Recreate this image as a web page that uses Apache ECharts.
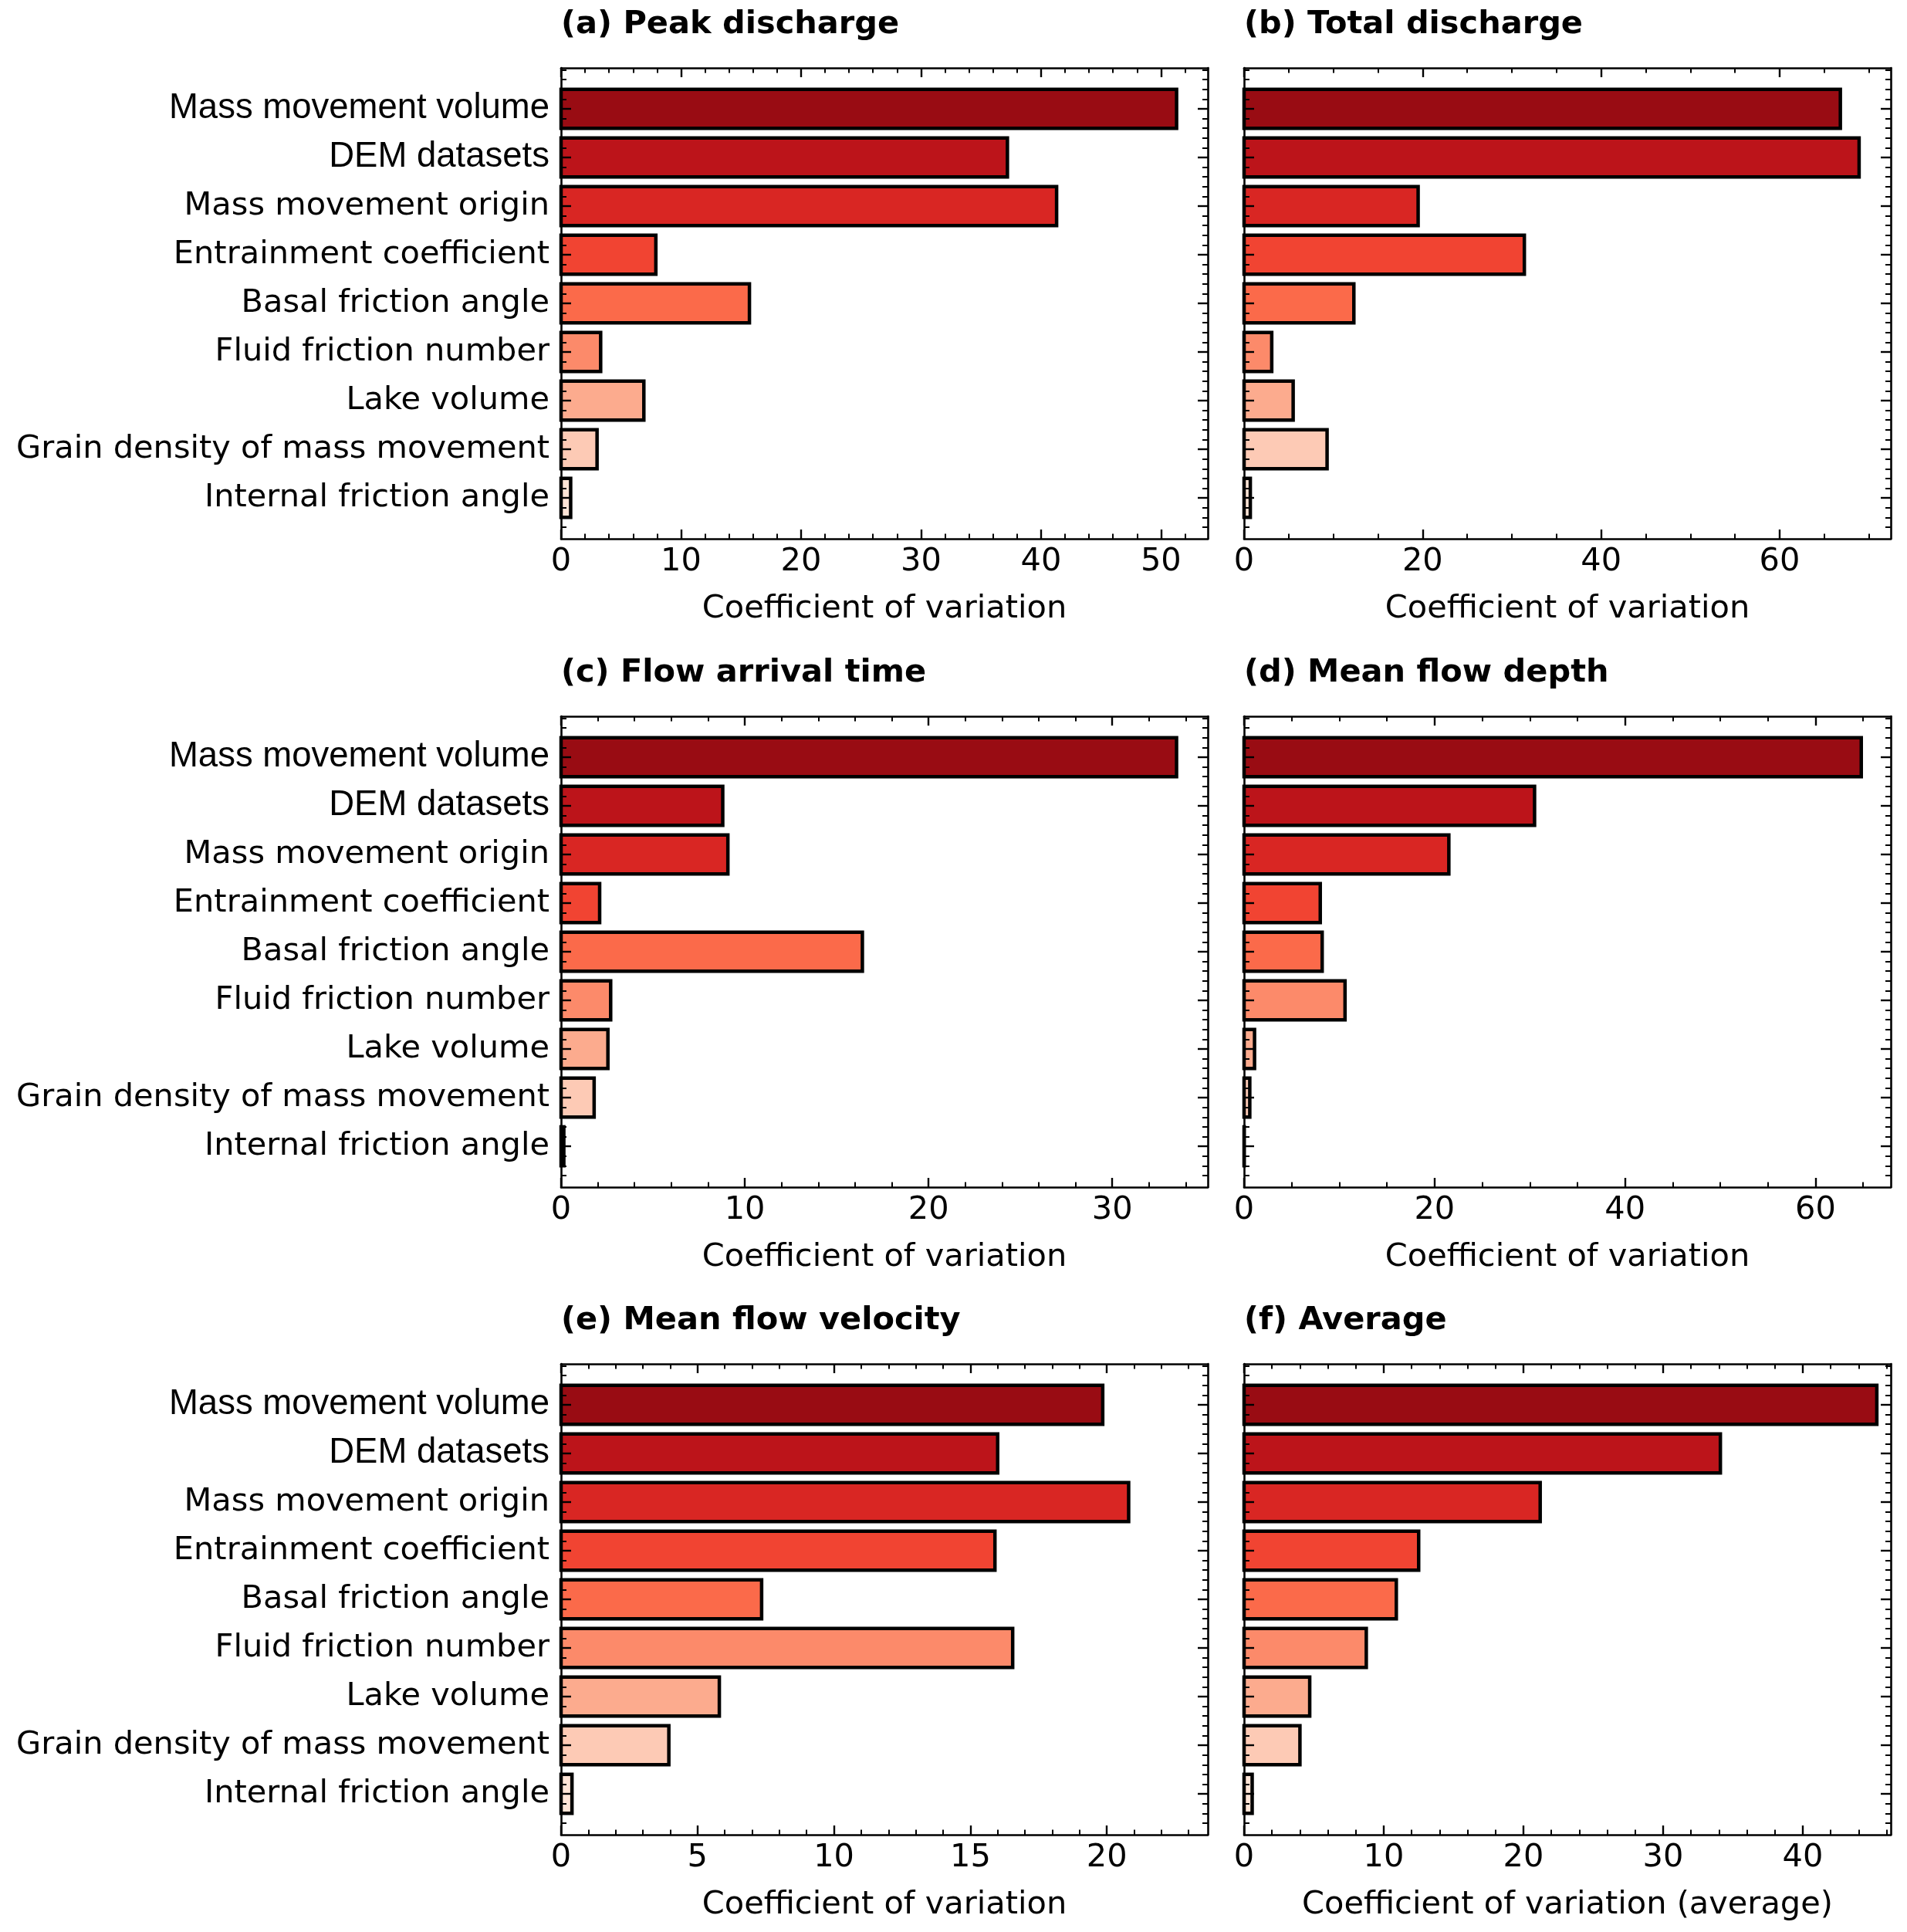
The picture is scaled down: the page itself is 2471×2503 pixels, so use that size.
<!DOCTYPE html>
<html>
<head>
<meta charset="utf-8">
<script src="https://cdn.jsdelivr.net/npm/echarts@6/dist/echarts.min.js"></script>
<style>
html,body{margin:0;padding:0;background:#fff;}
#chart{width:2471px;height:2503px;}
</style>
</head>
<body>
<div id="chart"></div>
<script>
// ---------------- data ----------------
const categories = [
  "Mass movement volume",
  "DEM datasets",
  "Mass movement origin",
  "Entrainment coefficient",
  "Basal friction angle",
  "Fluid friction number",
  "Lake volume",
  "Grain density of mass movement",
  "Internal friction angle"
];
const peakDischarge    = [51.3, 37.2, 41.3, 7.9, 15.7, 3.3, 6.9, 3.0, 0.8];
const totalDischarge   = [66.8, 68.9, 19.5, 31.4, 12.3, 3.1, 5.5, 9.3, 0.7];
const flowArrivalTime  = [33.5, 8.8, 9.08, 2.1, 16.4, 2.7, 2.55, 1.8, 0.15];
const meanFlowDepth    = [64.8, 30.5, 21.5, 8.0, 8.2, 10.6, 1.1, 0.6, 0.02];
const meanFlowVelocity = [19.85, 16.0, 20.8, 15.9, 7.35, 16.55, 5.8, 3.95, 0.4];
const averageCV        = [45.3, 34.1, 21.2, 12.5, 10.9, 8.75, 4.7, 4.0, 0.58];

const panelTitles = [
  "(a) Peak discharge", "(b) Total discharge",
  "(c) Flow arrival time", "(d) Mean flow depth",
  "(e) Mean flow velocity", "(f) Average"
];
const xAxisNames = [
  "Coefficient of variation", "Coefficient of variation",
  "Coefficient of variation", "Coefficient of variation",
  "Coefficient of variation", "Coefficient of variation (average)"
];
const xMaxima = [53.9, 72.45, 35.2, 67.9, 23.7, 46.3];
const xMajorTicks = [
  [0, 10, 20, 30, 40, 50],
  [0, 20, 40, 60],
  [0, 10, 20, 30],
  [0, 20, 40, 60],
  [0, 5, 10, 15, 20],
  [0, 10, 20, 30, 40]
];
const xMinorSteps = [2, 5, 2, 5, 1, 2];
const categoryTicks = [0, 1, 2, 3, 4, 5, 6, 7, 8];

const panelValues = [peakDischarge, totalDischarge, flowArrivalTime, meanFlowDepth, meanFlowVelocity, averageCV];

// ---------------- styling / layout ----------------
const palette = ['#990c13','#bc141a','#d92623','#f14432','#fb6a4a','#fc8a6a','#fcab8e','#fdcab5','#fee4d6'];
const labelStyleKeys = ['ar','ar','dv','dv','dv','dv','dv','dv','dv'];
const colLeft = [727, 1612];
const frameW = 838;
const rowTop = [88, 928, 1767];
const frameH = 610;
const yMin = -0.84, yMax = 8.84;
const SANS = 'DejaVu Sans';

function minorValues(lo, hi, step, majorTest) {
  const out = [];
  const n = Math.floor((hi - lo) / step + 1e-9);
  for (let i = 0; i <= n; i++) {
    const v = Math.round((lo + i * step) * 1000) / 1000;
    if (v <= lo + 1e-9 && lo === 0) continue;
    if (v >= hi - 1e-9) continue;
    if (majorTest(v)) continue;
    out.push(v);
  }
  return out;
}

const grids = [], xAxes = [], yAxes = [], series = [], graphics = [];
const spine = {show: true, onZero: false, lineStyle: {color: '#000', width: 2.6}};
const noSpine = {show: false, onZero: false};

for (let p = 0; p < 6; p++) {
  const r = Math.floor(p / 2), c = p % 2;
  const left = colLeft[c], top = rowTop[r];
  grids.push({left: left, top: top, width: frameW, height: frameH, containLabel: false, outerBoundsMode: 'none'});

  const majors = xMajorTicks[p];
  const majStep = majors[1] - majors[0];
  const xMinor = minorValues(0, xMaxima[p], xMinorSteps[p], v => Math.abs(v / majStep - Math.round(v / majStep)) < 1e-6);
  const yMinor = minorValues(-0.8, 8.8, 0.2, v => Math.abs(v - Math.round(v)) < 1e-6).filter(v => v > yMin && v < yMax);
  yMinor.unshift(-0.8);

  const baseX = {gridIndex: p, type: 'value', min: 0, max: xMaxima[p], splitLine: {show: false}, z: 5};
  xAxes.push(Object.assign({}, baseX, {
    position: 'bottom',
    axisLine: spine,
    axisTick: {show: true, inside: true, length: 12, lineStyle: {color: '#000', width: 2.4}, customValues: majors},
    axisLabel: {show: true, customValues: majors, margin: 9, fontFamily: SANS, fontSize: 41.5, color: '#000'},
    name: xAxisNames[p], nameLocation: 'middle', nameGap: 70,
    nameTextStyle: {fontFamily: SANS, fontSize: 41.5, color: '#000'}
  }));
  xAxes.push(Object.assign({}, baseX, {
    position: 'top',
    axisLine: spine,
    axisTick: {show: true, inside: true, length: 12, lineStyle: {color: '#000', width: 2.4}, customValues: majors},
    axisLabel: {show: false}
  }));
  xAxes.push(Object.assign({}, baseX, {
    position: 'bottom',
    axisLine: noSpine,
    axisTick: {show: true, inside: true, length: 6.5, lineStyle: {color: '#000', width: 2}, customValues: xMinor},
    axisLabel: {show: false}
  }));
  xAxes.push(Object.assign({}, baseX, {
    position: 'top',
    axisLine: noSpine,
    axisTick: {show: true, inside: true, length: 6.5, lineStyle: {color: '#000', width: 2}, customValues: xMinor},
    axisLabel: {show: false}
  }));

  const baseY = {gridIndex: p, type: 'value', min: yMin, max: yMax, inverse: true, splitLine: {show: false}, z: 5};
  yAxes.push(Object.assign({}, baseY, {
    position: 'left',
    axisLine: spine,
    axisTick: {show: true, inside: true, length: 13, lineStyle: {color: '#000', width: 2.4}, customValues: categoryTicks},
    axisLabel: {show: c === 0, customValues: categoryTicks, margin: 15, color: '#000',
      fontFamily: SANS, fontSize: 41.5,
      formatter: v => { const k = Math.round(v); return '{' + labelStyleKeys[k] + '|' + categories[k] + '}'; },
      rich: {
        ar: {fontFamily: 'Liberation Sans', fontSize: 45.5, color: '#000'},
        dv: {fontFamily: SANS, fontSize: 41.5, color: '#000'}
      }}
  }));
  yAxes.push(Object.assign({}, baseY, {
    position: 'right',
    axisLine: spine,
    axisTick: {show: true, inside: true, length: 13, lineStyle: {color: '#000', width: 2.4}, customValues: categoryTicks},
    axisLabel: {show: false}
  }));
  yAxes.push(Object.assign({}, baseY, {
    position: 'left',
    axisLine: noSpine,
    axisTick: {show: true, inside: true, length: 7, lineStyle: {color: '#000', width: 2}, customValues: yMinor},
    axisLabel: {show: false}
  }));
  yAxes.push(Object.assign({}, baseY, {
    position: 'right',
    axisLine: noSpine,
    axisTick: {show: true, inside: true, length: 7, lineStyle: {color: '#000', width: 2}, customValues: yMinor},
    axisLabel: {show: false}
  }));

  series.push({
    type: 'custom',
    xAxisIndex: 4 * p,
    yAxisIndex: 4 * p,
    z: 2,
    encode: {x: 0, y: 1},
    data: panelValues[p].map((v, k) => [v, k]),
    renderItem: function (params, api) {
      const v = api.value(0), k = api.value(1);
      const s = api.coord([0, k]);
      const e = api.coord([v, k]);
      const h = Math.abs(api.size([0, 0.8])[1]);
      return {
        type: 'rect',
        shape: {x: s[0], y: s[1] - h / 2, width: e[0] - s[0], height: h},
        style: {fill: palette[k], stroke: '#000', lineWidth: 4.5}
      };
    }
  });

  graphics.push({
    type: 'text', x: left, y: top - 56, z: 10,
    style: {text: panelTitles[p], fontFamily: SANS, fontWeight: 'bold', fontSize: 41.5,
      fill: '#000', align: 'left', verticalAlign: 'middle'}
  });
}

const chart = echarts.init(document.getElementById('chart'), null, {renderer: 'canvas'});
chart.setOption({
  backgroundColor: '#fff',
  animation: false,
  grid: grids,
  xAxis: xAxes,
  yAxis: yAxes,
  series: series,
  graphic: graphics
});
</script>
</body>
</html>
